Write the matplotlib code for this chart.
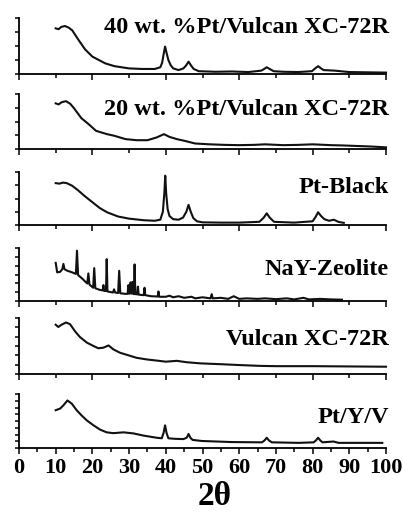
import matplotlib
matplotlib.use("Agg")
import matplotlib.pyplot as plt
from matplotlib.ticker import MultipleLocator

plt.rcParams['font.family'] = 'Liberation Serif'
plt.rcParams['font.weight'] = 'bold'

# XRD patterns, intensity scaled 0..1 within each panel
tt_pt40 = [10, 10.8, 11.5, 12.5, 13.5, 14.5, 16.2, 18, 20, 23.5, 26, 30, 33.5, 37, 38.5, 39.0, 39.4,
           39.8, 40.2, 40.7, 41.3, 42, 43.5, 44.8, 45.5, 46.2, 46.9, 47.6, 49, 53.5, 58, 62.5, 66,
           66.8, 67.5, 68.3, 69.4, 72, 76, 79.8, 80.7, 81.5, 82.3, 83, 86, 90, 95, 100]
i_pt40 = [0.815, 0.80, 0.84, 0.857, 0.83, 0.78, 0.61, 0.44, 0.31, 0.19, 0.14, 0.10, 0.09, 0.09, 0.12,
          0.20, 0.35, 0.49, 0.38, 0.25, 0.16, 0.10, 0.07, 0.10, 0.15, 0.22, 0.15, 0.09, 0.05, 0.04,
          0.045, 0.035, 0.06, 0.09, 0.12, 0.09, 0.05, 0.04, 0.035, 0.05, 0.10, 0.14, 0.10, 0.07, 0.06,
          0.035, 0.03, 0.025]

tt_pt20 = [10, 10.8, 11.6, 12.8, 14, 15, 17, 19, 21, 24, 26, 29, 32, 35, 37.5, 39.5, 41, 43, 45, 48,
           52, 56, 60, 64, 67, 72, 76, 80, 85, 88, 92, 96, 100]
i_pt20 = [0.83, 0.81, 0.85, 0.87, 0.82, 0.74, 0.56, 0.45, 0.33, 0.27, 0.24, 0.18, 0.16, 0.16, 0.21,
          0.27, 0.22, 0.18, 0.15, 0.10, 0.085, 0.075, 0.07, 0.075, 0.085, 0.07, 0.075, 0.085, 0.07,
          0.065, 0.055, 0.045, 0.03]

tt_ptblack = [10, 11, 12, 13, 14.5, 16, 18, 20, 22, 24, 27, 30, 34, 37, 38.5, 39.2, 39.6, 39.85, 40.1,
              40.5, 41, 42, 43.5, 44.7, 45.6, 46.2, 46.8, 47.5, 48.5, 50, 55, 60, 65.5, 66.7, 67.5,
              68.3, 69.5, 75, 80, 80.8, 81.5, 82.3, 83.2, 84.5, 85.8, 87, 88.5]
i_ptblack = [0.79, 0.78, 0.80, 0.79, 0.74, 0.66, 0.54, 0.43, 0.32, 0.24, 0.16, 0.12, 0.09, 0.08, 0.10,
             0.25, 0.60, 0.93, 0.60, 0.30, 0.17, 0.11, 0.10, 0.14, 0.25, 0.38, 0.25, 0.13, 0.07, 0.05,
             0.045, 0.045, 0.06, 0.14, 0.22, 0.14, 0.06, 0.045, 0.07, 0.15, 0.24, 0.17, 0.11, 0.08,
             0.10, 0.06, 0.04]

tt_nay = [10.0, 10.4, 11.2, 11.8, 12.1, 12.4, 13.2, 14.5, 15.5, 15.8, 16.1, 17.1, 18.6, 18.9, 19.2,
          20.2, 20.5, 20.8, 22.0, 22.8, 23.0, 23.2, 23.7, 23.9, 24.1, 25.6, 25.9, 26.2, 27.0, 27.3,
          27.6, 29.0, 29.6, 29.8, 30.0, 30.2, 30.4, 30.6, 30.7, 30.9, 31.1, 31.3, 31.5, 31.7, 32.2,
          32.4, 32.6, 34.0, 34.2, 34.4, 36.0, 37.8, 38.0, 38.2, 40.0, 41.0, 42.0, 43.5, 45.0, 47.0,
          48.0, 50.0, 52.2, 52.5, 52.8, 55.0, 57.0, 58.5, 60.0, 62.0, 65.0, 67.0, 70.0, 73.0, 75.0,
          77.5, 79.0, 82.0, 85.0, 88.0]
i_nay = [0.72, 0.54, 0.55, 0.60, 0.70, 0.60, 0.57, 0.54, 0.51, 0.95, 0.49, 0.43, 0.33, 0.52, 0.31,
         0.25, 0.62, 0.24, 0.21, 0.20, 0.30, 0.19, 0.19, 0.79, 0.18, 0.16, 0.22, 0.16, 0.15, 0.57,
         0.145, 0.135, 0.135, 0.30, 0.14, 0.14, 0.35, 0.14, 0.14, 0.36, 0.14, 0.13, 0.69, 0.13, 0.125,
         0.27, 0.12, 0.11, 0.25, 0.11, 0.09, 0.085, 0.18, 0.08, 0.08, 0.10, 0.07, 0.09, 0.06, 0.08,
         0.05, 0.07, 0.05, 0.13, 0.05, 0.06, 0.04, 0.09, 0.04, 0.05, 0.04, 0.05, 0.035, 0.05, 0.03,
         0.06, 0.03, 0.04, 0.03, 0.025]

tt_vulcan = [10, 10.7, 11.6, 12.8, 13.9, 15.3, 16.6, 18.5, 20.3, 21.6, 23, 24.4, 25.7, 27.5, 30, 32,
             34.8, 37.5, 40, 43, 45.7, 49.4, 55, 60, 65.7, 70, 80, 90, 100]
i_vulcan = [0.88, 0.84, 0.88, 0.92, 0.89, 0.76, 0.66, 0.56, 0.50, 0.46, 0.47, 0.51, 0.44, 0.38, 0.33,
            0.29, 0.26, 0.24, 0.22, 0.235, 0.21, 0.19, 0.175, 0.16, 0.145, 0.14, 0.14, 0.135, 0.13]

tt_ptyv = [10, 11.2, 12.1, 13.2, 14.4, 15.7, 17.1, 18.5, 20.3, 22.1, 23.9, 25.7, 28.5, 31.2, 33.9,
           37.5, 38.9, 39.4, 39.8, 40.2, 40.7, 42.5, 44.8, 45.7, 46.2, 46.7, 47.3, 49.8, 58, 66.2,
           66.9, 67.5, 68.1, 68.9, 76.2, 80.3, 80.9, 81.5, 82.1, 82.7, 85.7, 87.1, 99]
i_ptyv = [0.70, 0.73, 0.79, 0.88, 0.82, 0.70, 0.60, 0.51, 0.42, 0.34, 0.29, 0.275, 0.29, 0.27, 0.23,
          0.19, 0.18, 0.28, 0.42, 0.28, 0.18, 0.17, 0.165, 0.19, 0.26, 0.19, 0.15, 0.13, 0.11, 0.105,
          0.14, 0.19, 0.14, 0.105, 0.095, 0.105, 0.14, 0.19, 0.14, 0.105, 0.12, 0.095, 0.095]

labels = ['40 wt. %Pt/Vulcan XC-72R', '20 wt. %Pt/Vulcan XC-72R', 'Pt-Black',
          'NaY-Zeolite', 'Vulcan XC-72R', 'Pt/Y/V']
series = [(tt_pt40, i_pt40), (tt_pt20, i_pt20), (tt_ptblack, i_ptblack),
          (tt_nay, i_nay), (tt_vulcan, i_vulcan), (tt_ptyv, i_ptyv)]

W, H = 403, 513
fig = plt.figure(figsize=(W / 100, H / 100), dpi=100)

# panel extents in pixels (top, bottom), label baselines, number of y intervals
panels = [(18, 74), (94, 149), (172, 225), (248, 301), (318, 374), (394, 448)]
label_base = [33, 115, 193, 275, 345, 423]
y_steps = [4, 4, 4, 6, 6, 8]
x0, x1 = 19, 386

for k, ((top, bot), (tt, inten)) in enumerate(zip(panels, series)):
    ax = fig.add_axes([x0 / W, 1 - bot / H, (x1 - x0) / W, (bot - top) / H])
    ax.plot(tt, inten, color='#111111', lw=1.5, clip_on=False)
    ax.set_xlim(0, 100)
    ax.set_ylim(0, 1)
    for s in ['top', 'right']:
        ax.spines[s].set_visible(False)
    for s in ['left', 'bottom']:
        ax.spines[s].set_linewidth(1.3)
    ax.set_yticks([j / y_steps[k] for j in range(y_steps[k] + 1)])
    ax.set_yticklabels([])
    ax.tick_params(axis='y', direction='out', length=3, width=1.1)
    last = k == len(panels) - 1
    if last:
        ax.xaxis.set_major_locator(MultipleLocator(10))
        ax.xaxis.set_minor_locator(MultipleLocator(5))
        ax.tick_params(axis='x', which='major', direction='out', length=4, width=1.1,
                       labelsize=16, pad=3)
        ax.tick_params(axis='x', which='minor', direction='out', length=3, width=1.1)
        for t in ax.get_xticklabels():
            t.set_fontweight('bold')
    else:
        ax.xaxis.set_major_locator(MultipleLocator(20))
        ax.xaxis.set_minor_locator(MultipleLocator(10))
        ax.tick_params(axis='x', which='major', direction='out', length=4, width=1.1)
        ax.tick_params(axis='x', which='minor', direction='out', length=3, width=1.1)
        ax.set_xticklabels([])
    fig.text(389 / W, 1 - label_base[k] / H, labels[k], ha='right', va='baseline',
             fontsize=17.5, fontweight='bold')

fig.text(215 / W, 1 / H, '2θ', ha='center', va='bottom', fontsize=24, fontweight='bold')

fig.savefig('out.png', dpi=100)
